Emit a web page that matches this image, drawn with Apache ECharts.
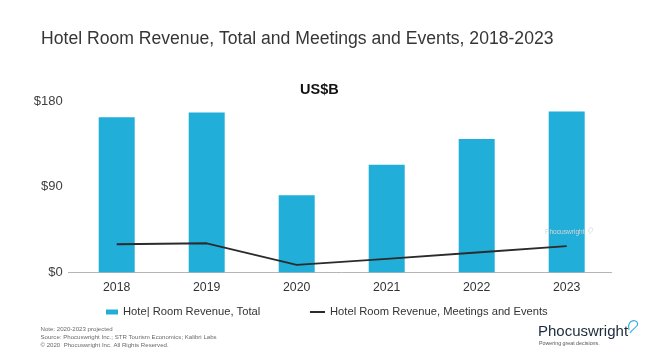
<!DOCTYPE html>
<html>
<head>
<meta charset="utf-8">
<script src="https://cdn.jsdelivr.net/npm/echarts@6/dist/echarts.min.js"></script>
<style>html,body{margin:0;padding:0;background:#fff}#c{width:650px;height:362px}</style>
</head>
<body>
<div id="c"></div>
<script>
var years = ['2018', '2019', '2020', '2021', '2022', '2023'];
var totalRevenue = [163, 168, 81, 113, 140, 169];
var meetingsRevenue = [29.5, 30.5, 7.7, 14.2, 20.8, 27.4];
var yTicks = [0, 90, 180];
var seriesNames = ['Hotel Room Revenue, Total', 'Hotel Room Revenue, Meetings and Events'];
var legendLabels = ['Hote| Room Revenue, Total', 'Hotel Room Revenue, Meetings and Events'];
var titleText = 'Hotel Room Revenue, Total and Meetings and Events, 2018-2023';
var unitText = 'US$B';
var notes = ['Note: 2020-2023 projected', 'Source: Phocuswright Inc.; STR Tourism Economics; Kalibri Labs', '\u00a9 2020  Phocuswright Inc. All Rights Reserved.'];

var FONT = '"Liberation Sans", Arial, sans-serif';
var chart = echarts.init(document.getElementById('c'), null, {renderer: 'canvas'});
function txt(x, y, s, size, color, weight) {
  return {type: 'text', x: x, y: y, z: 100, silent: true,
    style: {text: s, fontFamily: FONT, fontSize: size, fontWeight: weight || 'normal', fill: color, textVerticalAlign: 'middle', verticalAlign: 'middle'}};
}
function curve(p, color, w) {
  return {type: 'bezierCurve', z: 100, silent: true,
    shape: {x1: p[0], y1: p[1], cpx1: p[2], cpy1: p[3], cpx2: p[4], cpy2: p[5], x2: p[6], y2: p[7]},
    style: {fill: 'none', stroke: color, lineWidth: w}};
}
var option = {
  animation: false,
  backgroundColor: '#fff',
  title: {
    text: titleText, left: 41, top: 30, padding: 0,
    textStyle: {fontFamily: FONT, fontSize: 17.6, fontWeight: 'normal', color: '#363636'}
  },
  legend: [
    {
      data: [{name: seriesNames[0], icon: 'rect'}], left: 106, top: 305, padding: 0,
      itemWidth: 12, itemHeight: 5,
      formatter: function () { return legendLabels[0]; },
      textStyle: {fontFamily: FONT, fontSize: 11.2, color: '#333', lineHeight: 14}
    },
    {
      data: [seriesNames[1]], left: 309, top: 305, padding: 0,
      itemWidth: 15, itemHeight: 5,
      itemStyle: {opacity: 0},
      formatter: function () { return legendLabels[1]; },
      textStyle: {fontFamily: FONT, fontSize: 11.2, color: '#333', lineHeight: 14}
    }
  ],
  grid: {left: 71.7, right: 38.3, top: 101, bottom: 89.7, containLabel: false},
  xAxis: {
    type: 'category', data: years, boundaryGap: true,
    axisLine: {show: true, lineStyle: {color: '#b5b5b5', width: 1}},
    axisTick: {show: false},
    axisLabel: {fontFamily: FONT, fontSize: 12.3, color: '#333', margin: 9}
  },
  yAxis: {
    type: 'value', min: yTicks[0], max: yTicks[yTicks.length - 1], interval: yTicks[1] - yTicks[0],
    axisLine: {show: false}, axisTick: {show: false}, splitLine: {show: false},
    axisLabel: {fontFamily: FONT, fontSize: 13, color: '#404040', margin: 9, formatter: function (v) { return '$' + v; }}
  },
  series: [
    {
      name: seriesNames[0], type: 'bar', data: totalRevenue, barWidth: '40%',
      itemStyle: {color: '#21aed9'}
    },
    {
      name: seriesNames[1], type: 'line', data: meetingsRevenue, symbol: 'none',
      lineStyle: {color: '#2b2b2b', width: 1.8}, itemStyle: {color: '#2b2b2b'}
    }
  ],
  graphic: [
    {type: 'line', z: 1, silent: true, shape: {x1: 68, y1: 272.5, x2: 72, y2: 272.5}, style: {stroke: '#b5b5b5', lineWidth: 1}},
    txt(300, 90, unitText, 14.5, '#111', 'bold'),
    txt(545, 232, 'Phocuswright', 6.6, '#d6d6d6'),
    txt(40.5, 329, notes[0], 6.1, '#6a6a6a'),
    txt(40.5, 337, notes[1], 6.1, '#6a6a6a'),
    txt(40.5, 345, notes[2], 6.1, '#6a6a6a'),
    txt(538, 332, 'Phocuswright', 15, '#1b2a3c'),
    txt(539, 343.5, 'Powering great decisions.', 5.3, '#555'),
    curve([629, 330, 627, 321, 634, 319, 637, 322], '#3aaee0', 1.2),
    curve([637, 322, 640, 326, 633, 328, 630, 333], '#3aaee0', 1.2),
    curve([589, 232, 588, 229, 590, 227, 592, 228], '#d6d6d6', 0.8),
    curve([592, 228, 594, 229, 592, 232, 589, 234], '#d6d6d6', 0.8)
  ]
};
chart.setOption(option);
</script>
</body>
</html>
